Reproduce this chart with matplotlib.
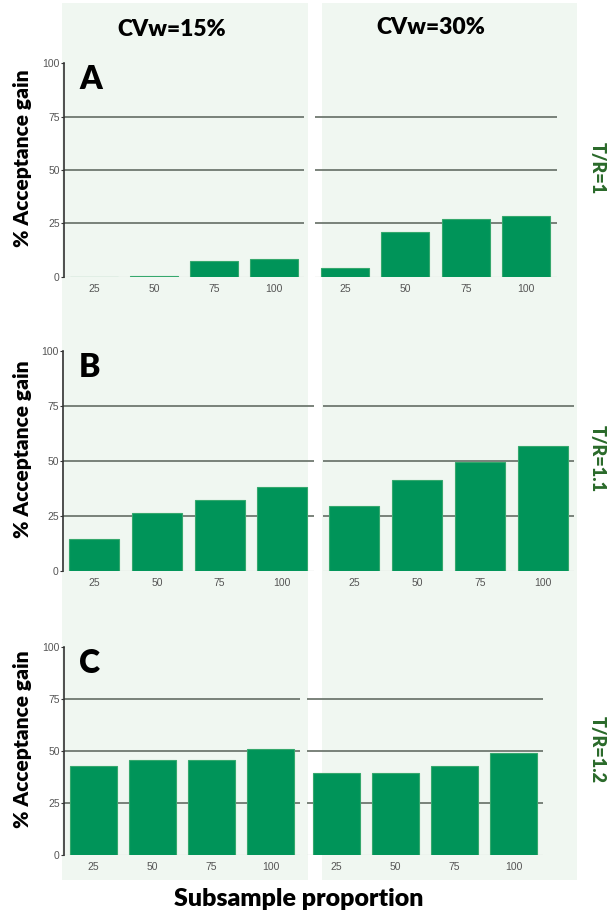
import matplotlib
matplotlib.use("Agg")
import matplotlib.pyplot as plt
from matplotlib.patches import Rectangle

# Data: % acceptance gain by subsample proportion
subsample = ["25", "50", "75", "100"]
col_titles = ["CVw=15%", "CVw=30%"]
row_letters = ["A", "B", "C"]
row_labels = ["T/R=1", "T/R=1.1", "T/R=1.2"]
gain_tr10_cv15 = [0.0, 0.5, 7.5, 8.5]
gain_tr10_cv30 = [4.2, 20.8, 27.0, 28.6]
gain_tr11_cv15 = [14.5, 26.5, 32.4, 38.0]
gain_tr11_cv30 = [29.7, 41.4, 49.7, 57.0]
gain_tr12_cv15 = [42.6, 45.5, 45.5, 51.0]
gain_tr12_cv30 = [39.4, 39.4, 42.6, 48.9]
yticks = [0, 25, 50, 75, 100]

W, H = 613, 915
fig = plt.figure(figsize=(W / 100, H / 100), dpi=100)
fig.patch.set_facecolor("white")

BAR = "#009459"
EDGE = "#35a86d"
GRID = "#6f7870"
SHADE = "#f0f7f1"
TEXT_FONT = ["Lato", "DejaVu Sans"]
TICK_FONT = ["Liberation Sans", "DejaVu Sans"]
HEAVY = "heavy"


def px_axes(x0, x1, y_top, y_bot):
    return fig.add_axes([x0 / W, 1 - y_bot / H, (x1 - x0) / W, (y_bot - y_top) / H])


# shaded column backgrounds
for (sx0, sx1) in [(62, 308), (322, 577)]:
    fig.add_artist(Rectangle((sx0 / W, 1 - 880 / H), (sx1 - sx0) / W, (880 - 3) / H,
                             transform=fig.transFigure, facecolor=SHADE,
                             edgecolor="none", zorder=0))

# panel geometry in pixels: (left x0, x1), (right x0, x1), y for 100, y for 0
layout = [
    ((64, 304), (314.5, 556.5), 63.3, 276.7),
    ((63, 313.5), (323, 574), 351, 571),
    ((64, 300), (307, 543), 647, 855),
]
rows = [
    (gain_tr10_cv15, gain_tr10_cv30),
    (gain_tr11_cv15, gain_tr11_cv30),
    (gain_tr12_cv15, gain_tr12_cv30),
]

for r, ((lx, rx, ytop, ybot), vals) in enumerate(zip(layout, rows)):
    for c, (xr, v) in enumerate(zip((lx, rx), vals)):
        ax = px_axes(xr[0], xr[1], ytop, ybot)
        ax.set_facecolor("none")
        x = list(range(len(subsample)))
        ax.bar(x, v, width=0.8, color=BAR, edgecolor=EDGE, linewidth=0.8, zorder=3)
        ax.set_xlim(-0.5, 3.5)
        ax.set_ylim(0, 100)
        for g in (25, 50, 75):
            ax.axhline(g, color=GRID, linewidth=1.3, zorder=1)
        ax.axhline(0, color="#dde3de", linewidth=1.0, zorder=1)
        ax.set_xticks(x)
        ax.set_xticklabels(subsample, fontsize=7.5, color="#555555", family=TICK_FONT)
        ax.tick_params(axis="x", length=0, pad=5)
        for s in ("top", "right", "bottom"):
            ax.spines[s].set_visible(False)
        if c == 0:
            ax.spines["left"].set_color("#333333")
            ax.spines["left"].set_linewidth(1.2)
            ax.set_yticks(yticks)
            ax.set_yticklabels([str(t) for t in yticks], fontsize=7.5,
                               color="#555555", family=TICK_FONT)
            ax.tick_params(axis="y", length=2, width=0.8, color="#333333", pad=1)
        else:
            ax.spines["left"].set_visible(False)
            ax.set_yticks([])

    # panel letter
    fig.text(79 / W, 1 - (ytop + 26) / H, row_letters[r], fontsize=23, fontweight=HEAVY,
             family=TEXT_FONT, ha="left", va="baseline")
    # y label
    fig.text(23 / W, 1 - ((ytop + ybot) / 2 - 12) / H, "% Acceptance gain", rotation=90,
             fontsize=15, fontweight=HEAVY, family=TEXT_FONT, ha="center", va="center")
    # row label on the right
    fig.text(597 / W, 1 - ((ytop + ybot) / 2 - 2) / H, row_labels[r], rotation=-90,
             fontsize=13, fontweight=HEAVY, color="#2a6a2a", family=TEXT_FONT,
             ha="center", va="center")

# column titles
fig.text(172 / W, 1 - 29 / H, col_titles[0], fontsize=16.5, fontweight=HEAVY,
         family=TEXT_FONT, ha="center", va="center")
fig.text(431 / W, 1 - 27 / H, col_titles[1], fontsize=16.5, fontweight=HEAVY,
         family=TEXT_FONT, ha="center", va="center")

# shared x label
fig.text(299 / W, 1 - 899 / H, "Subsample proportion", fontsize=18, fontweight=HEAVY,
         family=TEXT_FONT, ha="center", va="center")

fig.savefig("out.png", dpi=100, facecolor="white")
